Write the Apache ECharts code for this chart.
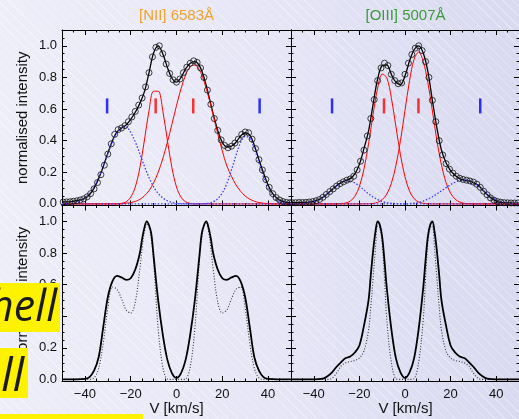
<!DOCTYPE html>
<html><head><meta charset="utf-8">
<script src="https://cdn.jsdelivr.net/npm/echarts@6/dist/echarts.min.js"></script>
<style>
html,body{margin:0;padding:0;}
body{width:519px;height:419px;overflow:hidden;
background:
 repeating-linear-gradient(45deg, rgba(255,255,255,0.30) 0px, rgba(255,255,255,0.30) 1px, rgba(255,255,255,0) 1px, rgba(255,255,255,0) 7px),
 linear-gradient(90deg,#eeeef9 0%,#e5e5f6 55%,#d9d9f0 100%);}
#c{width:519px;height:419px;}
</style></head><body><div id="c"></div><script>
// ---- velocity grids (km/s) ----
const vLine = [-50,-48,-46,-44,-42,-40,-38,-36,-34,-32,-30,-28,-26,-24,-22,-20,-18,-16,-14,-12,-10,-8,-6,-4,-2,0,2,4,6,8,10,12,14,16,18,20,22,24,26,28,30,32,34,36,38,40,42,44,46,48,50];
const vObs = [-49.5,-48,-46.5,-45,-43.5,-42,-40.5,-39,-37.5,-36,-34.5,-33,-31.5,-30,-28.5,-27,-25.5,-24,-22.5,-21,-19.5,-18,-16.5,-15,-13.5,-12,-10.5,-9,-7.5,-6,-4.5,-3,-1.5,0,1.5,3,4.5,6,7.5,9,10.5,12,13.5,15,16.5,18,19.5,21,22.5,24,25.5,27,28.5,30,31.5,33,34.5,36,37.5,39,40.5,42,43.5,45,46.5,48,49.5];
const vNiiModel = [-50,-44,-40,-38,-36,-34,-32,-30,-28,-26,-24,-22,-20,-18,-16,-15,-14,-13,-12,-11,-10,-8,-6,-4,-2,0,2,4,6,8,10,11,12,13,14,15,16,18,20,22,24,26,28,30,32,34,36,38,40,44,50];
const vOiiiModel = [-50,-44,-40,-36,-34,-32,-30,-28,-26,-24,-22,-20,-18,-16,-15,-14,-13,-12,-11,-10,-9,-8,-6,-4,-2,0,2,4,6,8,9,10,11,12,13,14,15,16,18,20,22,24,26,28,30,32,34,36,40,44,50];

// ---- [NII] 6583 (upper left) ----
const niiObs = [0.012,0.013,0.014,0.017,0.02,0.025,0.032,0.045,0.065,0.095,
 0.135,0.185,0.245,0.315,0.38,0.44,0.47,0.48,0.495,0.52,
 0.55,0.585,0.625,0.67,0.74,0.83,0.93,0.99,1.0,0.95,
 0.885,0.825,0.785,0.77,0.79,0.83,0.865,0.89,0.905,0.895,
 0.86,0.80,0.72,0.63,0.54,0.465,0.405,0.37,0.355,0.365,
 0.385,0.41,0.44,0.455,0.45,0.41,0.35,0.28,0.215,0.155,
 0.105,0.065,0.04,0.025,0.015,0.01,0.008];
const niiFit = [0.012,0.013,0.015,0.02,0.025,0.035,0.058,0.1,0.16,0.235,
 0.32,0.40,0.455,0.48,0.50,0.535,0.58,0.635,0.71,0.83,
 0.955,1.0,0.95,0.865,0.795,0.77,0.80,0.855,0.89,0.90,
 0.875,0.80,0.69,0.57,0.465,0.39,0.36,0.365,0.39,0.43,
 0.45,0.435,0.37,0.28,0.195,0.12,0.065,0.035,0.018,0.01,0.006];
const niiRed1 = [0,0,0,0,0,0,0,0,0,0,0,0,0,
 0.004,0.013,0.042,0.107,0.229,0.404,0.59,0.713,0.713,0.59,0.404,0.229,0.107,0.042,0.013,0.004,
 0,0,0,0,0,0,0,0,0,0,0,0,0,0,0,0,0,0,0,0,0,0];
const niiRed2 = [0,0,0,0,0,0,0,0,0,0,0,0,0,0,
 0.004,0.008,0.016,0.029,0.051,0.084,0.133,0.2,0.286,0.389,0.504,0.622,0.73,0.816,0.868,0.878,
 0.847,0.776,0.678,0.563,0.445,0.335,0.24,0.175,0.12,0.08,0.05,0.03,0.017,0.009,0.004,0.002,
 0,0,0,0,0];
const niiBlue1 = [0.001,0.002,0.004,0.01,0.02,0.038,0.066,0.109,0.167,0.238,
 0.317,0.392,0.452,0.486,0.486,0.452,0.392,0.317,0.238,0.167,
 0.109,0.066,0.038,0.02,0.01,0.004,0.002,0.001,
 0,0,0,0,0,0,0,0,0,0,0,0,0,0,0,0,0,0,0,0,0,0,0];
const niiBlue2 = [0,0,0,0,0,0,0,0,0,0,0,0,0,0,0,0,0,0,0,0,0,0,0,0,0,0,0,0,0,0,0,
 0.001,0.005,0.013,0.033,0.07,0.13,0.214,0.308,0.388,0.428,
 0.414,0.351,0.261,0.17,0.097,0.048,0.021,0.008,0.003,0.001];
const niiMarkBlue = [-30.3, 36.3];
const niiMarkRed = [-9.1, 7.3];

// ---- [OIII] 5007 (upper right) ----
const oiiiObs = [0.008,0.008,0.009,0.009,0.01,0.012,0.015,0.02,0.028,0.042,
 0.06,0.078,0.095,0.113,0.128,0.14,0.15,0.158,0.175,0.215,
 0.27,0.34,0.43,0.54,0.66,0.78,0.86,0.89,0.875,0.82,
 0.78,0.76,0.765,0.82,0.89,0.945,0.985,1.0,0.97,0.9,
 0.8,0.655,0.52,0.4,0.31,0.255,0.22,0.195,0.175,0.162,
 0.155,0.15,0.145,0.138,0.125,0.105,0.08,0.058,0.038,0.024,
 0.015,0.011,0.008,0.007,0.006,0.006,0.006];
const oiiiFit = [0.008,0.008,0.009,0.01,0.012,0.016,0.025,0.042,0.065,0.09,
 0.115,0.135,0.148,0.16,0.19,0.25,0.35,0.46,0.63,0.79,
 0.875,0.88,0.82,0.77,0.755,0.81,0.905,0.975,1.0,0.955,
 0.84,0.655,0.48,0.34,0.26,0.21,0.18,0.16,0.15,0.145,
 0.135,0.12,0.09,0.06,0.035,0.018,0.01,0.007,0.006,0.005,0.005];
const oiiiRed1 = [0,0,0,0,0,0,0,0,0,0,0,
 0.002,0.006,0.018,0.048,0.111,0.22,0.379,0.566,0.732,0.821,0.798,0.672,0.491,0.311,0.171,0.081,0.033,0.012,0.004,0.001,
 0,0,0,0,0,0,0,0,0,0,0,0,0,0,0,0,0,0,0,0];
const oiiiRed2 = [0,0,0,0,0,0,0,0,0,0,0,0,0,0,0,0,0,
 0.001,0.003,0.01,0.027,0.062,0.13,0.242,0.40,0.592,0.78,0.916,0.96,0.9,0.77,0.59,0.40,0.245,0.135,0.068,0.03,0.012,0.004,0.001,
 0,0,0,0,0,0,0,0,0,0,0];
const oiiiBlue1 = [0,0.001,0.002,0.004,0.008,0.015,0.027,0.043,0.064,0.089,
 0.113,0.133,0.144,0.144,0.133,0.113,0.089,0.064,0.043,0.027,
 0.015,0.008,0.004,0.002,0.001,
 0,0,0,0,0,0,0,0,0,0,0,0,0,0,0,0,0,0,0,0,0,0,0,0,0,0];
const oiiiBlue2 = [0,0,0,0,0,0,0,0,0,0,0,0,0,0,0,0,0,0,0,0,0,0,0,0,0,0,
 0.002,0.005,0.01,0.018,0.03,0.045,0.063,0.083,0.103,0.122,
 0.137,0.147,0.15,0.147,0.135,0.115,0.09,0.065,0.043,0.026,
 0.014,0.007,0.003,0.001,0];
const oiiiMarkBlue = [-32, 33];
const oiiiMarkRed = [-9.2, 5.9];
const markLevel = 0.62;

// ---- model profiles (lower panels) ----
const niiModel = [0,0,0.003,0.015,0.055,0.14,0.33,0.52,0.62,0.655,0.645,0.63,0.64,0.695,0.80,0.89,0.96,1.0,0.975,0.92,0.78,0.50,0.285,0.125,0.04,
 0.01,
 0.04,0.125,0.285,0.50,0.78,0.92,0.975,1.0,0.96,0.89,0.80,0.695,0.64,0.63,0.645,0.655,0.62,0.52,0.33,0.14,0.055,0.015,0.003,0,0];
const niiModelDot = [0,0,0,0,0.01,0.07,0.23,0.45,0.585,0.57,0.51,0.44,0.42,0.49,0.70,0.83,0.935,0.985,0.97,0.89,0.75,0.32,0.08,0.003,0,
 0,
 0,0.003,0.08,0.32,0.75,0.89,0.97,0.985,0.935,0.83,0.70,0.49,0.42,0.44,0.51,0.57,0.585,0.45,0.23,0.07,0.01,0,0,0,0];
const oiiiModel = [0,0,0,0.005,0.02,0.045,0.08,0.11,0.135,0.145,0.17,0.215,0.34,0.50,0.66,0.81,0.93,1.0,0.975,0.9,0.75,0.58,0.32,0.135,0.045,
 0.01,
 0.045,0.135,0.32,0.58,0.75,0.9,0.975,1.0,0.93,0.81,0.66,0.50,0.34,0.215,0.17,0.145,0.135,0.11,0.08,0.045,0.02,0.005,0,0,0];
const oiiiModelDot = [0,0,0,0,0,0.008,0.04,0.085,0.105,0.113,0.12,0.135,0.18,0.31,0.46,0.64,0.82,0.97,0.96,0.86,0.64,0.38,0.11,0.005,0,
 0,
 0,0.005,0.11,0.38,0.64,0.86,0.96,0.97,0.82,0.64,0.46,0.31,0.18,0.135,0.12,0.113,0.105,0.085,0.04,0.008,0,0,0,0,0];

// ---- ticks ----
const xMajor = [-40,-20,0,20,40];
const xMinor = [-50,-45,-40,-35,-30,-25,-20,-15,-10,-5,0,5,10,15,20,25,30,35,40,45,50];
const yMajor = [0,0.2,0.4,0.6,0.8,1.0];
const yMinor = [0,0.05,0.1,0.15,0.2,0.25,0.3,0.35,0.4,0.45,0.5,0.55,0.6,0.65,0.7,0.75,0.8,0.85,0.9,0.95,1.0,1.05];

const FONT = '"Liberation Sans", Arial, Helvetica, sans-serif';
const grids = [
  {left:62, top:30, width:229, height:175.5},
  {left:291, top:30, width:229, height:175.5},
  {left:62, top:205.5, width:229, height:175.5},
  {left:291, top:205.5, width:229, height:175.5}
];
const xAxes = [], yAxes = [];
grids.forEach((g, gi) => {
  const lowerRow = gi >= 2, leftCol = gi % 2 === 0;
  [['bottom', xMajor, 5, lowerRow, true], ['bottom', xMinor, 2.5, false, false],
   ['top', xMajor, 5, false, true], ['top', xMinor, 2.5, false, false]].forEach(([pos, vals, len, lab, line]) => {
    xAxes.push({gridIndex: gi, type: 'value', min: -50, max: 50, position: pos,
      axisLine: {show: line, onZero: false, lineStyle: {color: '#000', width: 1}},
      axisTick: {show: true, inside: true, length: len, customValues: vals, lineStyle: {color: '#000', width: 1}},
      axisLabel: {show: lab, customValues: xMajor, margin: 7, fontSize: 13, color: '#111', fontFamily: FONT,
        formatter: v => v < 0 ? '\u2212' + (-v) : String(v)},
      splitLine: {show: false}});
  });
  [['left', yMajor, 5, leftCol, true], ['left', yMinor, 2.5, false, false],
   ['right', yMajor, 5, false, true], ['right', yMinor, 2.5, false, false]].forEach(([pos, vals, len, lab, line]) => {
    yAxes.push({gridIndex: gi, type: 'value', min: -0.01, max: 1.1, position: pos,
      axisLine: {show: line, onZero: false, lineStyle: {color: '#000', width: 1}},
      axisTick: {show: true, inside: true, length: len, customValues: vals, lineStyle: {color: '#000', width: 1}},
      axisLabel: {show: lab, customValues: yMajor, margin: 5, fontSize: 13, color: '#111', fontFamily: FONT,
        formatter: v => v.toFixed(1)},
      splitLine: {show: false}});
  });
});

function P(xs, ys) { return xs.map((x, i) => [x, ys[i]]); }
function line(gi, xs, ys, color, width, type, z) {
  return {type: 'line', xAxisIndex: gi * 4, yAxisIndex: gi * 4, data: P(xs, ys), smooth: 0.35,
    showSymbol: false, symbol: 'none', lineStyle: {color: color, width: width, type: type}, z: z,
    silent: true, animation: false};
}
function circles(gi, ys) {
  return {type: 'scatter', xAxisIndex: gi * 4, yAxisIndex: gi * 4, data: P(vObs, ys), symbol: 'circle',
    symbolSize: 6, itemStyle: {color: 'rgba(0,0,0,0)', borderColor: '#111', borderWidth: 1}, z: 6,
    silent: true, animation: false};
}
function marks(gi, xs, color) {
  return {type: 'scatter', xAxisIndex: gi * 4, yAxisIndex: gi * 4, data: xs.map(v => [v, markLevel]),
    symbol: 'rect', symbolSize: [2.5, 15], itemStyle: {color: color}, z: 7, silent: true, animation: false};
}
const BLUE = '#3d3dff', RED = '#ff0000', BLUEDASH = [1.5, 1.8];
const series = [
  line(0, vLine, niiFit, '#000', 1.3, 'solid', 3),
  line(0, vLine, niiRed1, RED, 1, 'solid', 4),
  line(0, vLine, niiRed2, RED, 1, 'solid', 4),
  line(0, vLine, niiBlue1, BLUE, 1.3, BLUEDASH, 4),
  line(0, vLine, niiBlue2, BLUE, 1.3, BLUEDASH, 4),
  circles(0, niiObs),
  marks(0, niiMarkBlue, '#0000ff'),
  marks(0, niiMarkRed, RED),
  line(1, vLine, oiiiFit, '#000', 1.3, 'solid', 3),
  line(1, vLine, oiiiRed1, RED, 1, 'solid', 4),
  line(1, vLine, oiiiRed2, RED, 1, 'solid', 4),
  line(1, vLine, oiiiBlue1, BLUE, 1.3, BLUEDASH, 4),
  line(1, vLine, oiiiBlue2, BLUE, 1.3, BLUEDASH, 4),
  circles(1, oiiiObs),
  marks(1, oiiiMarkBlue, '#0000ff'),
  marks(1, oiiiMarkRed, RED),
  line(2, vNiiModel, niiModelDot, '#333', 1.1, [1, 1.8], 3),
  line(2, vNiiModel, niiModel, '#000', 1.8, 'solid', 4),
  line(3, vOiiiModel, oiiiModelDot, '#333', 1.1, [1, 1.8], 3),
  line(3, vOiiiModel, oiiiModel, '#000', 1.8, 'solid', 4)
];

const TF = '15px ' + FONT;
const graphics = [
  {type: 'text', x: 176.5, y: 16, style: {text: '[NII] 6583Å', fill: '#f2a22a', font: TF, align: 'center', verticalAlign: 'middle'}},
  {type: 'text', x: 405.5, y: 16, style: {text: '[OIII] 5007Å', fill: '#3c9a3c', font: TF, align: 'center', verticalAlign: 'middle'}},
  {type: 'text', x: 176.5, y: 409, style: {text: 'V [km/s]', fill: '#111', font: TF, align: 'center', verticalAlign: 'middle'}},
  {type: 'text', x: 405.5, y: 409, style: {text: 'V [km/s]', fill: '#111', font: TF, align: 'center', verticalAlign: 'middle'}},
  {type: 'text', x: 22.5, y: 117.75, rotation: Math.PI / 2, style: {text: 'normalised intensity', fill: '#111', font: TF, align: 'center', verticalAlign: 'middle'}},
  {type: 'text', x: 22.5, y: 293, rotation: Math.PI / 2, style: {text: 'normalised intensity', fill: '#111', font: TF, align: 'center', verticalAlign: 'middle'}},
  // slide overlay boxes
  {type: 'rect', z: 100, shape: {x: 0, y: 283, width: 60, height: 49}, style: {fill: '#fff200'}},
  {type: 'text', z: 101, x: 57, y: 309, style: {text: 'hell', fill: '#1a1a1a', font: 'italic 400 43px "Open Sans", "DejaVu Sans", sans-serif', align: 'right', verticalAlign: 'middle'}},
  {type: 'rect', z: 100, shape: {x: 0, y: 348, width: 28, height: 50}, style: {fill: '#fff200'}},
  {type: 'text', z: 101, x: 24, y: 378, style: {text: 'll', fill: '#1a1a1a', font: 'italic 400 45px "Open Sans", "DejaVu Sans", sans-serif', align: 'right', verticalAlign: 'middle'}},
  {type: 'rect', z: 100, shape: {x: 0, y: 414, width: 143, height: 10}, style: {fill: '#fff200'}}
];

const chart = echarts.init(document.getElementById('c'), null, {renderer: 'canvas'});
chart.setOption({
  backgroundColor: 'transparent',
  animation: false,
  grid: grids,
  xAxis: xAxes,
  yAxis: yAxes,
  series: series,
  graphic: {elements: graphics}
});
</script></body></html>
